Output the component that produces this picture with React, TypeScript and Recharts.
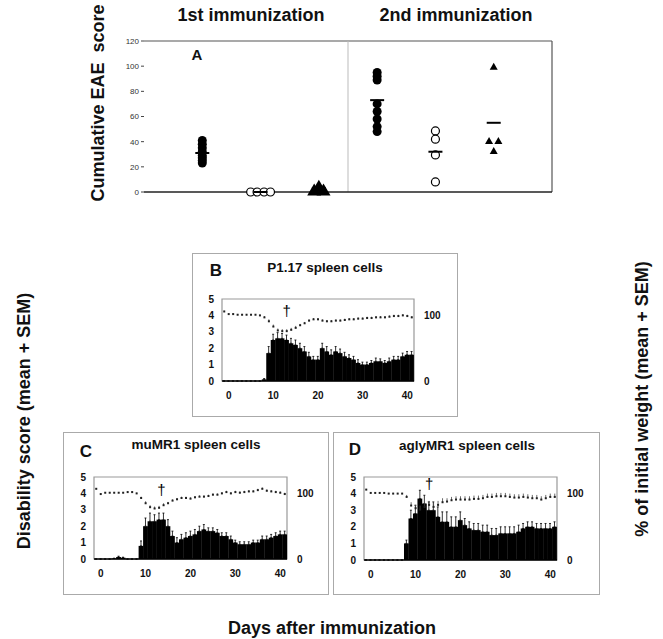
import React from "react"
import {
  Bar,
  ComposedChart,
  ErrorBar,
  ReferenceArea,
  ReferenceLine,
  Scatter,
  ScatterChart,
  XAxis,
  YAxis,
} from "recharts"

const FONT = '"Liberation Sans", Arial, sans-serif'

// panel A: cumulative EAE score per mouse, group slots 1..6
const FIRST_P117 = [41, 38, 35, 32, 29, 27, 25, 23]
const FIRST_MUMR1 = [0, 0, 0, 0]
const FIRST_AGLY = [2, 2, 5]
const SECOND_P117 = [95, 92, 89, 70, 64, 58, 52, 48]
const SECOND_MUMR1 = [48.5, 42, 29.5, 8]
const SECOND_AGLY = [100, 41, 41, 33]
const GROUP_MEANS = [31, 0, 3, 73, 32, 55]
const MUMR1_FIRST_JITTER = [-0.17, -0.06, 0.06, 0.17]
const AGLY_FIRST_JITTER = [-0.08, 0.08, 0]
const AGLY_SECOND_JITTER = [0, -0.08, 0.08, 0]
const A_TICKS = [0, 20, 40, 60, 80, 100, 120]

// panels B-D: daily disability score and weight
const DAYS = [-1, 0, 1, 2, 3, 4, 5, 6, 7, 8, 9, 10, 11, 12, 13, 14, 15, 16, 17, 18, 19, 20,
  21, 22, 23, 24, 25, 26, 27, 28, 29, 30, 31, 32, 33, 34, 35, 36, 37, 38, 39, 40, 41]
const DAY_TICKS = [0, 10, 20, 30, 40]

const B_SCORE = [0, 0, 0, 0, 0, 0, 0, 0, 0, 0.1, 1.7, 2.5, 2.6, 2.6, 2.5, 2.3, 2.2, 2.0, 1.8, 1.5, 1.3, 1.3,
  2.0, 1.8, 1.6, 1.8, 1.7, 1.5, 1.4, 1.3, 1.1, 1.0, 1.0, 1.1, 1.2, 1.2, 1.1, 1.2, 1.3, 1.3, 1.5, 1.6, 1.6]
const B_SEM = [0, 0, 0, 0, 0, 0, 0, 0, 0, 0.05, 0.4, 0.35, 0.35, 0.3, 0.3, 0.3, 0.3, 0.3, 0.3, 0.25, 0.2, 0.2,
  0.3, 0.3, 0.3, 0.3, 0.25, 0.25, 0.2, 0.2, 0.2, 0.15, 0.15, 0.15, 0.2, 0.15, 0.15, 0.2, 0.2, 0.2, 0.2, 0.2, 0.2]
const B_WEIGHT = [106, 102, 102, 101, 101, 101, 101, 101, 100, 97, 91, 83, 77, 76, 76, 78, 81, 85, 88, 92, 94, 94,
  92, 91, 91, 92, 92, 93, 94, 94, 95, 95, 96, 96, 97, 97, 97, 98, 99, 99, 100, 99, 97]
const B_WSEM = [1, 1, 1, 1, 1, 1, 1, 1, 1, 2, 3, 3, 3, 3, 3, 3, 3, 2, 2, 2, 2, 2,
  2, 2, 2, 2, 2, 2, 2, 2, 2, 2, 2, 2, 2, 2, 2, 2, 2, 2, 2, 2, 2]
const B_DAGGER = [{ day: 13, y: 4.2 }]

const C_SCORE = [0, 0, 0, 0, 0.03, 0.12, 0.08, 0, 0, 0, 0.8, 2.0, 2.3, 2.3, 2.4, 2.4, 2.0, 1.4, 1.0, 1.2, 1.3, 1.4,
  1.5, 1.7, 1.8, 1.7, 1.7, 1.6, 1.4, 1.4, 1.2, 1.0, 0.9, 0.9, 0.9, 1.0, 1.0, 1.2, 1.2, 1.3, 1.4, 1.5, 1.5]
const C_SEM = [0, 0, 0, 0, 0.02, 0.05, 0.03, 0, 0, 0, 0.3, 0.5, 0.5, 0.4, 0.4, 0.4, 0.4, 0.3, 0.3, 0.3, 0.3, 0.3,
  0.3, 0.3, 0.3, 0.2, 0.2, 0.2, 0.2, 0.2, 0.2, 0.15, 0.15, 0.15, 0.15, 0.15, 0.15, 0.2, 0.2, 0.2, 0.2, 0.2, 0.2]
const C_WEIGHT = [107, 99, 101, 101, 101, 101, 101, 102, 102, 100, 93, 85, 79, 77, 78, 82, 85, 89, 91, 93, 93, 92,
  94, 95, 95, 96, 98, 98, 100, 102, 100, 102, 101, 102, 103, 103, 105, 107, 104, 103, 102, 101, 99]
const C_WSEM = [1, 1, 1, 1, 1, 1, 1, 1, 1, 1, 2, 3, 3, 3, 3, 3, 2, 2, 2, 2, 2, 2,
  2, 2, 2, 2, 2, 2, 2, 2, 2, 2, 2, 2, 2, 2, 2, 2, 2, 2, 2, 2, 2]
const C_DAGGER = [{ day: 13.5, y: 4.15 }]

const D_SCORE = [0, 0, 0, 0, 0, 0, 0, 0, 0, 1.0, 2.5, 2.8, 3.7, 3.4, 3.0, 3.0, 2.6, 2.3, 2.3, 2.0, 2.0, 2.4,
  2.1, 1.9, 1.8, 1.8, 1.7, 1.7, 1.5, 1.5, 1.6, 1.6, 1.6, 1.6, 1.7, 1.9, 2.0, 2.0, 1.9, 1.9, 1.9, 1.9, 2.0]
const D_SEM = [0, 0, 0, 0, 0, 0, 0, 0, 0, 0.2, 0.5, 0.5, 0.5, 0.5, 0.5, 0.5, 0.6, 0.6, 0.6, 0.6, 0.6, 0.5,
  0.4, 0.4, 0.4, 0.4, 0.4, 0.4, 0.4, 0.4, 0.4, 0.4, 0.4, 0.4, 0.4, 0.3, 0.3, 0.3, 0.3, 0.3, 0.3, 0.3, 0.3]
const D_WEIGHT = [106, 101, 101, 101, 101, 100, 100, 100, 100, 95, 82, 78, 76, 80, 83, 80, 83, 87, 88, 90, 91, 91,
  91, 91, 92, 92, 93, 95, 95, 96, 96, 96, 95, 94, 94, 95, 94, 93, 93, 91, 93, 95, 95]
const D_WSEM = [1, 1, 1, 1, 1, 1, 1, 1, 1, 3, 5, 5, 6, 6, 6, 6, 6, 6, 5, 5, 5, 5,
  5, 5, 5, 5, 5, 5, 5, 5, 5, 5, 5, 5, 5, 5, 5, 5, 5, 5, 5, 5, 5]
const D_DAGGER = [{ day: 13, y: 4.5 }]

const filledDot = (p: any) => <circle cx={p.cx} cy={p.cy} r={4.5} fill="#000" />
const openDot = (p: any) => (
  <circle cx={p.cx} cy={p.cy} r={4} fill="#fff" stroke="#000" strokeWidth={1.2} />
)
const triangle = (w: number, h: number) => (p: any) => (
  <polygon
    points={`${p.cx},${p.cy - h / 2} ${p.cx - w / 2},${p.cy + h / 2} ${p.cx + w / 2},${p.cy + h / 2}`}
    fill="#000"
  />
)
const meanDash = (p: any) => (
  <line x1={p.cx - 7} x2={p.cx + 7} y1={p.cy} y2={p.cy} stroke="#000" strokeWidth={2} />
)
const square = (p: any) => <rect x={p.cx - 1} y={p.cy - 1} width={2} height={2} fill="#222" />
const dagger = (p: any) => (
  <text x={p.cx} y={p.cy} textAnchor="middle" dominantBaseline="middle" fontSize={15} fontFamily={FONT}
    fill="#000" stroke="none">
    †
  </text>
)
// daily bars drawn edge to edge (one day ≈ 4.5px wide)
const dayBar = (p: any) => {
  if (!p.height) return <g />
  const mid = p.x + p.width / 2
  return <rect x={mid - 2.4} y={p.y} width={4.8} height={p.height} fill="#000" />
}

function text(x: number, y: number, size: number, rotate = false): React.CSSProperties {
  return {
    position: "absolute",
    left: x,
    top: y,
    transform: `translate(-50%, -50%)${rotate ? " rotate(-90deg)" : ""}`,
    fontSize: size,
    fontWeight: 700,
    fontFamily: FONT,
    whiteSpace: "nowrap",
    lineHeight: 1,
    color: "#111",
  }
}

function frame(left: number, top: number, right: number, bottom: number): React.CSSProperties {
  return {
    position: "absolute",
    left,
    top,
    width: right - left,
    height: bottom - top,
    border: "1.5px solid #aaa",
    boxSizing: "border-box",
  }
}

function PanelA() {
  const toPts = (vals: number[], slot: number, jitter?: number[]) =>
    vals.map((v, i) => ({ g: slot + (jitter ? jitter[i] : 0), v }))
  const means = GROUP_MEANS.map((v, i) => ({ g: i + 1, v }))
  return (
    <div style={{ position: "absolute", left: 0, top: 0 }}>
      <ScatterChart width={663} height={215} margin={{ top: 41, right: 111, bottom: 23, left: 114 }}>
        <XAxis dataKey="g" type="number" domain={[0, 7]} hide />
        <YAxis
          dataKey="v"
          type="number"
          domain={[0, 120]}
          ticks={A_TICKS}
          width={30}
          axisLine={false}
          tickSize={3}
          tickMargin={2}
          tickLine={{ stroke: "#444" }}
          tick={{ fontSize: 8, fill: "#333", fontFamily: FONT }}
        />
        <ReferenceLine y={120} stroke="#555" strokeWidth={1.2} />
        <ReferenceLine x={7} stroke="#555" strokeWidth={1.2} />
        <ReferenceLine x={3.5} stroke="#bbb" />
        <ReferenceLine y={0} stroke="#222" strokeWidth={1.6} />
        <Scatter data={toPts(FIRST_P117, 1)} shape={filledDot} isAnimationActive={false} />
        <Scatter data={toPts(FIRST_MUMR1, 2, MUMR1_FIRST_JITTER)} shape={openDot} isAnimationActive={false} />
        <Scatter data={toPts(FIRST_AGLY, 3, AGLY_FIRST_JITTER)} shape={triangle(14, 12)} isAnimationActive={false} />
        <Scatter data={toPts(SECOND_P117, 4)} shape={filledDot} isAnimationActive={false} />
        <Scatter data={toPts(SECOND_MUMR1, 5)} shape={openDot} isAnimationActive={false} />
        <Scatter data={toPts(SECOND_AGLY, 6, AGLY_SECOND_JITTER)} shape={triangle(8, 7)} isAnimationActive={false} />
        <Scatter data={means} shape={meanDash} isAnimationActive={false} />
      </ScatterChart>
    </div>
  )
}

interface CourseProps {
  score: number[]
  sem: number[]
  weight: number[]
  wsem: number[]
  marks: Array<{ day: number; y: number }>
  left: number
  top: number
  width: number
  height: number
}

function CoursePanel({ score, sem, weight, wsem, marks, left, top, width, height }: CourseProps) {
  const data = DAYS.map((day, i) => ({
    day,
    score: score[i],
    scoreErr: [0, sem[i]],
    weight: weight[i],
    weightErr: [0, wsem[i]],
  }))
  const tick = { fontSize: 10, fontWeight: 700, fill: "#111", fontFamily: FONT }
  return (
    <div style={{ position: "absolute", left: left - 40, top: top - 8 }}>
      <ComposedChart
        width={width + 80}
        height={height + 32}
        data={data}
        barCategoryGap={0}
        barGap={0}
        margin={{ top: 8, right: 0, bottom: 0, left: 0 }}
      >
        <XAxis
          dataKey="day"
          type="number"
          domain={[-1.5, 41.5]}
          ticks={DAY_TICKS}
          tickLine={false}
          axisLine={{ stroke: "#000", strokeWidth: 1.5 }}
          tick={tick}
          tickMargin={5}
          height={24}
        />
        <YAxis yAxisId="s" domain={[0, 5]} ticks={[0, 1, 2, 3, 4, 5]} width={40} axisLine={false} tickLine={false} tick={tick} />
        <YAxis
          yAxisId="w"
          orientation="right"
          domain={[0, 125]}
          ticks={[0, 100]}
          width={40}
          axisLine={false}
          tickLine={false}
          tickMargin={4}
          tick={tick}
        />
        <ReferenceArea yAxisId="s" x1={-1.5} x2={41.5} y1={0} y2={5} fill="none" stroke="#999" strokeWidth={1.2} />
        <Bar yAxisId="s" dataKey="score" fill="#000" shape={dayBar} isAnimationActive={false}>
          <ErrorBar dataKey="scoreErr" direction="y" width={1} stroke="#000" strokeWidth={0.8} />
        </Bar>
        <Scatter yAxisId="w" dataKey="weight" shape={square} isAnimationActive={false}>
          <ErrorBar dataKey="weightErr" direction="y" width={0} stroke="#444" strokeWidth={0.8} />
        </Scatter>
        <Scatter yAxisId="s" data={marks} dataKey="y" shape={dagger} isAnimationActive={false} />
      </ComposedChart>
    </div>
  )
}

export default function App() {
  return (
    <div style={{ position: "absolute", left: 0, top: 0, width: 663, height: 639, background: "#fff", overflow: "hidden" }}>
      <div style={text(251, 15, 18)}>1st immunization</div>
      <div style={text(456, 15, 18)}>2nd immunization</div>
      <div style={text(98, 103, 18, true)}>Cumulative EAE&nbsp;&nbsp;score</div>
      <div style={text(197, 54, 15)}>A</div>
      <PanelA />

      <div style={frame(192, 253, 458, 417)} />
      <div style={frame(63, 432, 329, 595)} />
      <div style={frame(333, 432, 600, 595)} />

      <div style={text(216, 270, 17)}>B</div>
      <div style={text(325, 268, 13.5)}>P1.17 spleen cells</div>
      <CoursePanel score={B_SCORE} sem={B_SEM} weight={B_WEIGHT} wsem={B_WSEM} marks={B_DAGGER}
        left={222} top={299} width={192} height={82} />

      <div style={text(86, 451, 17)}>C</div>
      <div style={text(196, 445, 13.5)}>muMR1 spleen cells</div>
      <CoursePanel score={C_SCORE} sem={C_SEM} weight={C_WEIGHT} wsem={C_WSEM} marks={C_DAGGER}
        left={94} top={477} width={193} height={82} />

      <div style={text(355, 449, 17)}>D</div>
      <div style={text(467, 446, 13.5)}>aglyMR1 spleen cells</div>
      <CoursePanel score={D_SCORE} sem={D_SEM} weight={D_WEIGHT} wsem={D_WSEM} marks={D_DAGGER}
        left={364} top={477} width={193} height={83} />

      <div style={text(24, 421, 18, true)}>Disability score (mean + SEM)</div>
      <div style={text(642, 399, 18, true)}>% of initial weight (mean + SEM)</div>
      <div style={text(332, 628, 18)}>Days after immunization</div>
    </div>
  )
}
